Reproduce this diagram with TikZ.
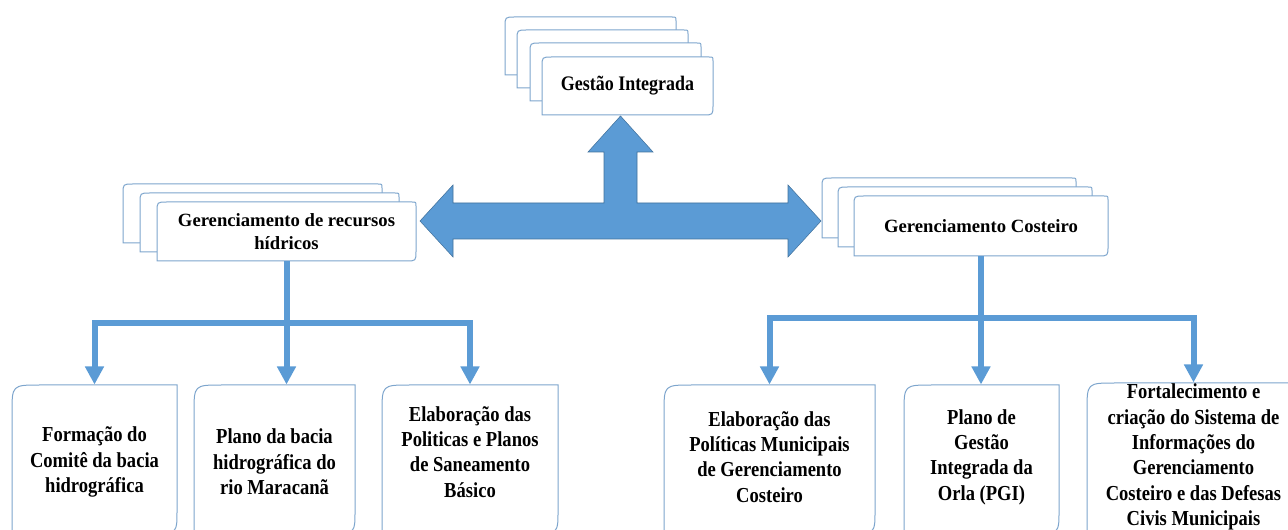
\documentclass[tikz,border=0pt]{standalone}
\usepackage{fontspec}
\setmainfont{Liberation Serif}
\newfontfamily\narrowserif{Liberation Serif}[FakeStretch=0.87]
\usetikzlibrary{arrows.meta,calc}

\newdimen\upx \upx=0.75pt

\definecolor{arrowblue}{RGB}{91,155,213}
\definecolor{edgeblue}{RGB}{65,113,156}
\definecolor{cardblue}{RGB}{125,165,205}

\tikzset{every picture/.style={line width=0.75pt}}
\tikzset{
  cardline/.style={draw=cardblue, fill=white, line width=0.75pt},
  bigarrow/.style={fill=arrowblue, draw=edgeblue, line width=0.4pt},
  bar/.style={draw=arrowblue, line width=4.5pt},
  bararrow/.style={bar, -{Triangle[length=13.5pt,width=13.5pt]}},
  toptitle/.style={font=\narrowserif\bfseries\fontsize{15.5}{18}\selectfont, align=center, inner sep=0pt},
  stacktitle/.style={font=\bfseries\fontsize{14}{17.5}\selectfont, align=center, inner sep=0pt},
  leafbox/.style={font=\narrowserif\bfseries\fontsize{16}{19}\selectfont, align=center, inner sep=0pt},
}

% card: x1 y1 x2 y2 (top left, bottom right), radius top left, top right, bottom right
\newcommand{\drawcard}[7]{%
  \draw[cardline] (#1,#4) -- (#1,{#2+#5}) .. controls (#1,#2) .. ({#1+#5},#2)
    -- ({#3-#6},#2) .. controls (#3,#2) .. (#3,{#2+#6})
    -- (#3,{#4-#7}) .. controls (#3,#4) .. ({#3-#7},#4) -- cycle;}

\begin{document}
\begin{tikzpicture}[x=0.75pt,y=0.75pt,yscale=-1,xscale=1]
\useasboundingbox (0,0) rectangle (1288,530);
\clip (0,0) rectangle (1288,530);

%Shape: Stacked Cards
\drawcard{505}{17}{676}{75}{10}{4}{10}
\drawcard{517}{30}{688}{88}{10}{4}{10}
\drawcard{530}{43}{701}{101}{10}{4}{10}
\drawcard{542}{57}{713}{115}{10}{4}{10}

%Shape: Stacked Cards
\drawcard{123}{184}{382}{243}{10}{4}{10}
\drawcard{140}{193}{399}{252}{10}{4}{10}
\drawcard{157}{202}{416}{261}{10}{4}{10}

%Shape: Stacked Cards
\drawcard{822}{178}{1076}{238}{10}{4}{10}
\drawcard{838}{187}{1092}{247}{10}{4}{10}
\drawcard{854}{196}{1108}{256}{10}{4}{10}

%Shape: Leaf Boxes
\drawcard{12}{385}{177}{533}{28}{0}{22}
\drawcard{194}{385}{355}{533}{28}{0}{22}
\drawcard{382}{385}{558}{533}{28}{0}{22}
\drawcard{664}{385}{875}{533}{28}{0}{22}
\drawcard{904}{385}{1059}{533}{28}{0}{22}
\drawcard{1087}{383}{1300}{533}{28}{0}{22}

%Shape: Up and Left-Right Arrow
\draw[bigarrow] (420,221) -- (453,185) -- (453,203) -- (604,203) -- (604,152) -- (588,152) -- (620.5,116) -- (653,152) -- (637,152) -- (637,203) -- (788,203) -- (788,185) -- (821,221) -- (788,257) -- (788,239) -- (453,239) -- (453,257) -- cycle;

% Text Node
\node[toptitle, minimum width=171\upx, minimum height=58\upx] (gi) at (627.5,86) {Gestão Integrada};
% Text Node
\node[stacktitle, minimum width=259\upx, minimum height=59\upx] (hid) at (286.5,231.5) {Gerenciamento de recursos\\hídricos};
% Text Node
\node[stacktitle, minimum width=254\upx, minimum height=60\upx] (gc) at (981,226) {Gerenciamento Costeiro};

% Text Node
\node[leafbox, minimum width=165\upx, minimum height=154\upx] (formacao) at (94.5,462) {Formação do\\Comitê da bacia\\hidrográfica};
% Text Node
\node[leafbox, minimum width=161\upx, minimum height=154\upx] (plano) at (274.5,462) {Plano da bacia\\hidrográfica do\\rio Maracanã};
% Text Node
\node[leafbox, minimum width=176\upx, minimum height=134\upx] (saneamento) at (470,452) {Elaboração das\\Politicas e Planos\\de Saneamento\\Básico};
% Text Node
\node[leafbox, minimum width=211\upx, minimum height=144\upx] (politicas) at (769.5,457) {Elaboração das\\Políticas Municipais\\de Gerenciamento\\Costeiro};
% Text Node
\node[leafbox, minimum width=155\upx, minimum height=144\upx] (pgi) at (981.5,457) {Plano de\\Gestão\\Integrada da\\Orla (PGI)};
% Text Node
\node[leafbox, minimum width=213\upx, minimum height=148\upx] (fortalecimento) at (1193.5,457) {Fortalecimento e\\criação do Sistema de\\Informações do\\Gerenciamento\\Costeiro e das Defesas\\Civis Municipais};

%Straight Lines
\coordinate (hsplit) at ($(hid.south)+(0,62)$);
\draw[bar] (hid.south) -- (hsplit);
\draw[bararrow] (hsplit) -| (formacao.north);
\draw[bararrow] (hsplit) -- (hsplit |- plano.north);
\draw[bararrow] (hsplit) -| (saneamento.north);

%Straight Lines
\coordinate (csplit) at ($(gc.south)+(0,62)$);
\draw[bar] (gc.south) -- (csplit);
\draw[bararrow] (csplit) -| (politicas.north);
\draw[bararrow] (csplit) -- (csplit |- pgi.north);
\draw[bararrow] (csplit) -| (fortalecimento.north);

\end{tikzpicture}
\end{document}
